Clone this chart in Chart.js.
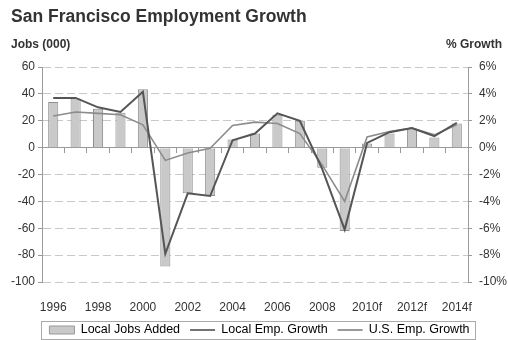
<!DOCTYPE html>
<html>
<head>
<meta charset="utf-8">
<script src="https://cdn.jsdelivr.net/npm/chart.js@4"></script>
<style>
  html, body { margin: 0; padding: 0; background: #fff; }
  #wrap { width: 508px; height: 340px; }
</style>
</head>
<body>
<div id="wrap"><canvas id="empChart"></canvas></div>
<script>
// years on the x axis (f = forecast)
const years = ['1996','1997','1998','1999','2000','2001','2002','2003','2004','2005',
  '2006','2007','2008','2009','2010f','2011f','2012f','2013f','2014f'];

// jobs added, thousands (left axis)
const localJobsAdded = [34, 36.5, 29, 26, 43.5, -88.5, -34, -36, 6, 10.5,
  24.5, 20, -15, -62, 3, 10.5, 13.5, 7.5, 18];

// growth in % (right axis)
const localEmpGrowth = [3.7, 3.7, 3.0, 2.65, 4.15, -7.9, -3.4, -3.6, 0.55, 1.05,
  2.55, 2.0, -1.6, -6.1, 0.35, 1.15, 1.45, 0.85, 1.85];
const usEmpGrowth = [2.35, 2.65, 2.55, 2.45, 1.7, -0.95, -0.4, -0.05, 1.65, 1.9,
  1.8, 1.05, -1.3, -4.0, 0.8, 1.2, 1.45, 0.95, 1.7];

const seriesNames = ['Local Jobs Added', 'Local Emp. Growth', 'U.S. Emp. Growth'];

const FONT = "'Liberation Sans', Arial, Helvetica, sans-serif";
const axisGray = '#9a9a9a';

// unit labels above the two value axes
const unitLabels = {
  id: 'unitLabels',
  afterDraw(chart) {
    const ctx = chart.ctx;
    ctx.save();
    ctx.font = 'bold 12px ' + FONT;
    ctx.fillStyle = '#333';
    ctx.textBaseline = 'middle';
    ctx.textAlign = 'left';
    ctx.fillText('Jobs (000)', 11, 45);
    ctx.textAlign = 'right';
    ctx.fillText('% Growth', 502, 45);
    ctx.restore();
  }
};

// frame round the legend
const legendFrame = {
  id: 'legendFrame',
  afterDraw(chart) {
    const boxes = chart.legend && chart.legend.legendHitBoxes;
    if (!boxes || !boxes.length) return;
    let left = Infinity, right = -Infinity;
    boxes.forEach(b => {
      left = Math.min(left, b.left);
      right = Math.max(right, b.left + b.width);
    });
    const mid = boxes[0].top + boxes[0].height / 2;
    const ctx = chart.ctx;
    ctx.save();
    ctx.strokeStyle = '#aaa';
    ctx.lineWidth = 1;
    ctx.strokeRect(Math.round(left - 8) + 0.5, Math.round(mid - 9) + 0.5, Math.round(right - left + 14), 18);
    ctx.restore();
  }
};

const ctx = document.getElementById('empChart').getContext('2d');
new Chart(ctx, {
  data: {
    labels: years,
    datasets: [
      {
        type: 'bar',
        label: seriesNames[0],
        data: localJobsAdded,
        yAxisID: 'y',
        backgroundColor: '#c9c9c9',
        borderColor: '#8f8f8f',
        borderWidth: 1,
        barPercentage: 0.9,
        categoryPercentage: 0.5,
        order: 3
      },
      {
        type: 'line',
        label: seriesNames[1],
        data: localEmpGrowth,
        yAxisID: 'y1',
        borderColor: '#555',
        borderWidth: 2,
        pointRadius: 0,
        tension: 0,
        order: 1
      },
      {
        type: 'line',
        label: seriesNames[2],
        data: usEmpGrowth,
        yAxisID: 'y1',
        borderColor: '#8c8c8c',
        borderWidth: 1.6,
        pointRadius: 0,
        tension: 0,
        order: 2
      }
    ]
  },
  options: {
    responsive: true,
    maintainAspectRatio: false,
    animation: false,
    layout: { padding: { left: 11, right: 0, top: 0, bottom: 0 } },
    plugins: {
      tooltip: { enabled: false },
      title: {
        display: true,
        text: 'San Francisco Employment Growth',
        align: 'start',
        color: '#333',
        font: { family: FONT, size: 17.5, weight: 'bold' },
        padding: { top: 7, bottom: 39 }
      },
      legend: {
        position: 'bottom',
        maxHeight: 26.25,
        labels: {
          usePointStyle: true,
          pointStyleWidth: 25,
          boxHeight: 8,
          padding: 10,
          color: '#333',
          font: { family: FONT, size: 12.5 },
          generateLabels: chart => chart.data.datasets.map((ds, i) => ({
            text: ds.label,
            fillStyle: ds.type === 'bar' ? ds.backgroundColor : ds.borderColor,
            strokeStyle: ds.type === 'bar' ? '#999' : (i === 1 ? '#444' : '#777'),
            lineWidth: ds.type === 'bar' ? 1 : 1.5,
            pointStyle: ds.type === 'bar' ? 'rect' : 'line',
            hidden: false,
            datasetIndex: i
          }))
        }
      }
    },
    scales: {
      x: {
        type: 'category',
        offset: true,
        grid: { display: false, drawTicks: false },
        border: { display: false },
        afterFit: s => { s.height = 31.75; },
        ticks: {
          autoSkip: false,
          maxRotation: 0,
          padding: 18,
          color: '#333',
          font: { family: FONT, size: 12 },
          callback: (v, i) => (i % 2 === 0 ? years[i] : '')
        }
      },
      // axis line through zero with tick marks between the years
      x2: {
        type: 'category',
        axis: 'x',
        position: { y: 0 },
        offset: true,
        grid: { offset: true, drawOnChartArea: false, drawTicks: true, tickLength: 5, color: axisGray },
        border: { display: true, color: axisGray, width: 1 },
        ticks: { display: false }
      },
      y: {
        position: 'left',
        min: -100,
        max: 60,
        afterFit: s => { s.width = 31; },
        ticks: {
          stepSize: 20,
          padding: 3,
          color: '#333',
          font: { family: FONT, size: 12 }
        },
        grid: { color: '#c8c8c8', tickColor: axisGray, tickLength: 4 },
        border: { display: true, color: axisGray, dash: [8, 4] }
      },
      y1: {
        position: 'right',
        min: -10,
        max: 6,
        afterFit: s => { s.width = 40; },
        ticks: {
          stepSize: 2,
          padding: 7,
          color: '#333',
          font: { family: FONT, size: 12 },
          callback: v => v + '%'
        },
        grid: { drawOnChartArea: false, tickColor: axisGray, tickLength: 4 },
        border: { display: true, color: axisGray }
      }
    }
  },
  plugins: [unitLabels, legendFrame]
});
</script>
</body>
</html>
